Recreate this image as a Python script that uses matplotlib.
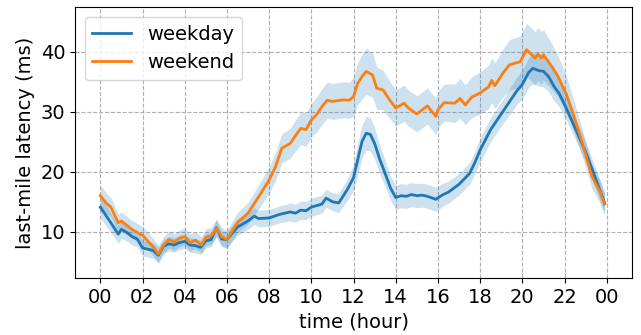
import numpy as np
import matplotlib
matplotlib.use('Agg')
import matplotlib.pyplot as plt

# weekday latency (ms)
wd_hours = [0, 0.25, 0.5, 0.85, 1.0, 1.25, 1.5, 1.75, 2.0, 2.5,
            2.75, 3.0, 3.25, 3.5, 3.75, 4.0, 4.25, 4.5, 4.75, 5.0,
            5.25, 5.5, 5.75, 6.0, 6.5, 7.0, 7.3, 7.5, 8.0, 8.5,
            9.0, 9.25, 9.5, 9.75, 10.0, 10.5, 10.7, 11.0, 11.3, 11.7,
            12.0, 12.2, 12.4, 12.6, 12.8, 13.0, 13.25, 13.5, 13.75, 14.0,
            14.25, 14.5, 14.75, 15.0, 15.25, 15.5, 15.9, 16.25, 16.5, 17.0,
            17.5, 17.75, 18.0, 18.5, 19.0, 19.5, 19.75, 20.0, 20.3, 20.5,
            20.8, 21.0, 21.25, 21.5, 21.75, 22.0, 22.5, 23.0, 23.5, 23.9]
wd_mean = [14.1, 12.8, 11.5, 9.6, 10.4, 9.9, 9.2, 8.8, 7.3, 6.9,
           6.1, 7.6, 8.0, 7.8, 8.2, 8.4, 7.8, 7.7, 7.4, 8.5,
           8.7, 10.7, 8.8, 8.7, 10.8, 11.8, 12.6, 12.2, 12.3, 12.9,
           13.3, 13.1, 13.6, 13.5, 14.1, 14.6, 15.6, 15.0, 14.8, 17.0,
           19.0, 22.0, 25.0, 26.4, 26.2, 24.7, 22.0, 19.7, 17.3, 15.7,
           16.0, 15.9, 16.2, 16.0, 16.1, 15.9, 15.4, 16.2, 16.6, 17.9,
           19.7, 21.5, 23.6, 27.0, 29.6, 32.2, 33.5, 34.5, 36.5, 37.2,
           36.8, 36.7, 35.8, 34.2, 33.0, 31.2, 27.3, 23.3, 18.6, 14.8]
wd_spread = [1.8, 1.7, 1.6, 1.5, 1.5, 1.4, 1.4, 1.3, 1.3, 1.3,
             1.3, 1.2, 1.2, 1.2, 1.2, 1.2, 1.2, 1.2, 1.2, 1.2,
             1.2, 1.3, 1.3, 1.3, 1.4, 1.4, 1.4, 1.4, 1.4, 1.4,
             1.5, 1.5, 1.5, 1.5, 1.5, 1.5, 1.5, 1.5, 1.6, 1.8,
             2.2, 2.6, 2.8, 2.8, 2.8, 2.6, 2.4, 2.2, 2.0, 2.0,
             2.0, 2.0, 2.0, 2.0, 2.0, 2.0, 2.0, 1.9, 1.8, 1.8,
             1.8, 1.9, 2.0, 2.0, 2.0, 2.2, 2.3, 2.4, 2.5, 2.6,
             2.6, 2.6, 2.5, 2.4, 2.2, 2.0, 1.8, 1.7, 1.7, 1.8]

# weekend latency (ms)
we_hours = [0, 0.3, 0.5, 0.85, 1.0, 1.5, 2.0, 2.5, 2.75, 3.0,
            3.25, 3.5, 3.75, 4.0, 4.25, 4.5, 4.8, 5.0, 5.25, 5.5,
            5.75, 6.0, 6.5, 7.0, 7.5, 8.0, 8.3, 8.6, 9.0, 9.25,
            9.5, 9.75, 10.0, 10.25, 10.5, 10.75, 11.0, 11.5, 11.8, 12.0,
            12.2, 12.4, 12.6, 12.9, 13.1, 13.4, 13.7, 14.0, 14.4, 14.6,
            15.0, 15.5, 15.9, 16.0, 16.3, 16.8, 17.05, 17.3, 17.6, 18.0,
            18.4, 18.55, 18.7, 19.1, 19.4, 19.9, 20.2, 20.6, 20.75, 20.9,
            21.0, 21.4, 21.7, 22.1, 22.4, 22.8, 23.3, 23.65, 23.9]
we_mean = [16.0, 14.7, 14.1, 11.5, 11.8, 10.4, 9.4, 7.5, 6.3, 7.8,
           8.7, 8.3, 8.9, 9.2, 8.2, 8.6, 7.8, 9.1, 9.3, 10.6,
           9.2, 8.7, 11.5, 13.1, 15.8, 18.6, 20.8, 23.9, 24.7, 26.0,
           27.2, 27.0, 28.6, 29.5, 30.8, 31.9, 31.7, 31.95, 31.9, 32.5,
           34.7, 35.8, 36.7, 36.1, 33.9, 33.6, 32.0, 30.6, 31.4, 30.6,
           29.6, 30.95, 29.2, 30.3, 31.5, 31.4, 32.2, 31.1, 32.4, 33.1,
           34.1, 35.2, 34.3, 36.5, 37.8, 38.3, 40.3, 38.9, 39.6, 38.9,
           39.45, 37.5, 35.8, 32.8, 29.7, 25.3, 19.2, 16.9, 14.6]
we_spread = [1.8, 1.7, 1.6, 1.5, 1.5, 1.5, 1.5, 1.4, 1.4, 1.4,
             1.4, 1.4, 1.4, 1.4, 1.4, 1.4, 1.4, 1.4, 1.4, 1.5,
             1.5, 1.5, 1.7, 1.8, 2.0, 2.2, 2.3, 2.4, 2.5, 2.6,
             2.7, 2.8, 2.8, 2.9, 3.0, 3.0, 3.0, 3.0, 3.0, 3.2,
             3.5, 3.7, 3.8, 3.7, 3.5, 3.3, 3.1, 3.0, 3.0, 3.0,
             3.0, 3.0, 3.0, 3.0, 3.1, 3.2, 3.3, 3.3, 3.4, 3.5,
             3.6, 3.7, 3.8, 4.0, 4.2, 4.3, 4.4, 4.4, 4.4, 4.4,
             4.2, 3.8, 3.4, 3.0, 2.6, 2.3, 2.0, 1.9, 1.8]

tick_hours = list(range(0, 25, 2))
tick_labels = ['%02d' % (h % 24) for h in tick_hours]

wd_mean = np.array(wd_mean)
wd_spread = np.array(wd_spread)
we_mean = np.array(we_mean)
we_spread = np.array(we_spread)

fig, ax = plt.subplots(figsize=(6.41, 3.35), dpi=100)
fig.subplots_adjust(left=0.117, right=0.986, top=0.979, bottom=0.170)

ax.fill_between(wd_hours, wd_mean - wd_spread, wd_mean + wd_spread,
                color='C0', alpha=0.22, lw=0)
ax.fill_between(we_hours, we_mean - we_spread, we_mean + we_spread,
                color='C0', alpha=0.22, lw=0)
ax.plot(wd_hours, wd_mean, color='C0', lw=2, label='weekday')
ax.plot(we_hours, we_mean, color='C1', lw=2, label='weekend')

ax.set_xlim(-1.2, 25.2)
ax.set_ylim(2.3, 47.4)
ax.set_xticks(tick_hours)
ax.set_xticklabels(tick_labels)
ax.set_yticks([10, 20, 30, 40])
ax.tick_params(labelsize=14)
ax.grid(True, linestyle='--', color='#b0b0b0', lw=0.8)
ax.set_axisbelow(True)
ax.set_xlabel('time (hour)', fontsize=14)
ax.set_ylabel('last-mile latency (ms)', fontsize=14)
ax.legend(loc='upper left', fontsize=14)

fig.savefig('out.png', dpi=100)
